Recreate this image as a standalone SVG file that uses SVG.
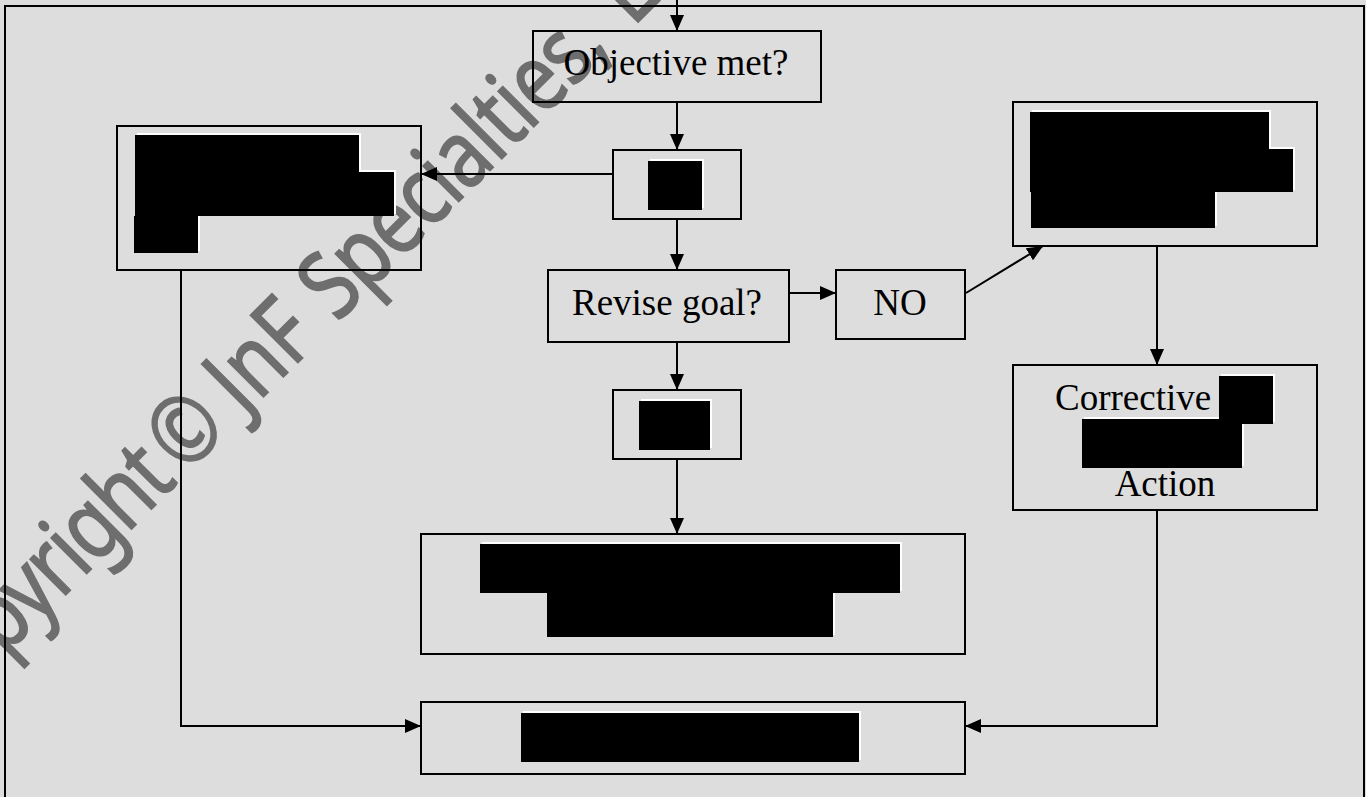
<svg xmlns="http://www.w3.org/2000/svg" width="1366" height="797" viewBox="0 0 1366 797">
  <defs>
    <marker id="arrow" viewBox="0 0 16 14" refX="16" refY="7" markerWidth="16" markerHeight="14" markerUnits="userSpaceOnUse" orient="auto">
      <path d="M0,0 L16,7 L0,14 z" fill="#000"/>
    </marker>
    <style>
      .box { fill: none; stroke: #000; stroke-width: 2; }
      .lbl { font-family: "Liberation Serif", "Times New Roman", serif; font-size: 37px; fill: #000; }
      .mid { text-anchor: middle; }
      .edge { fill: #fff; }
      .blk { fill: #000; }
      .conn { fill: none; stroke: #000; stroke-width: 2; }
      .wm { font-family: "Noto Sans", "Open Sans", sans-serif; font-size: 77px; fill: #6e6e6e; stroke: #6e6e6e; stroke-width: 1.4; }
      .tight { letter-spacing: -2px; }
      .snug { letter-spacing: -1.2px; }
    </style>
  </defs>

  <!-- page background -->
  <rect x="0" y="0" width="1366" height="797" fill="#dddddd"/>

  <!-- diagonal watermark: 45 degree baseline, glyphs stretched across the baseline -->
  <g id="watermark" transform="rotate(-45) translate(0,467) scale(1,1.22)">
    <text y="0" class="wm"><tspan x="-553" class="tight">Copyright</tspan><tspan x="-205">©</tspan><tspan x="-122">JnF</tspan><tspan x="10" class="snug">Specialties,</tspan><tspan x="428">L</tspan></text>
  </g>

  <!-- page frame -->
  <rect x="5" y="6" width="1359" height="900" class="box"/>

  <!-- connectors -->
  <g id="connectors">
    <line x1="677" y1="0" x2="677" y2="31" class="conn" marker-end="url(#arrow)"/>
    <line x1="677" y1="102" x2="677" y2="150" class="conn" marker-end="url(#arrow)"/>
    <line x1="613" y1="174" x2="421" y2="174" class="conn" marker-end="url(#arrow)"/>
    <line x1="677" y1="219" x2="677" y2="270" class="conn" marker-end="url(#arrow)"/>
    <line x1="789" y1="293" x2="836" y2="293" class="conn" marker-end="url(#arrow)"/>
    <line x1="966" y1="293" x2="1043" y2="246" class="conn" marker-end="url(#arrow)"/>
    <line x1="677" y1="342" x2="677" y2="390" class="conn" marker-end="url(#arrow)"/>
    <line x1="677" y1="459" x2="677" y2="534" class="conn" marker-end="url(#arrow)"/>
    <line x1="1157" y1="246" x2="1157" y2="365" class="conn" marker-end="url(#arrow)"/>
    <polyline points="181,270 181,726 421,726" class="conn" marker-end="url(#arrow)"/>
    <polyline points="1157,510 1157,726 965,726" class="conn" marker-end="url(#arrow)"/>
  </g>

  <g id="objective">
    <rect x="533" y="31" width="288" height="71" class="box"/>
    <text x="676" y="75" class="lbl mid">Objective met?</text>
  </g>

  <g id="check">
    <rect x="613" y="150" width="128" height="69" class="box"/>
    <rect x="650" y="159" width="54" height="49" class="edge"/>
    <rect x="648" y="161" width="54" height="49" class="blk"/>
  </g>

  <g id="left-step">
    <rect x="117" y="126" width="304" height="144" class="box"/>
    <rect x="137" y="133" width="224" height="37" class="edge"/>
    <rect x="137" y="170" width="259" height="44" class="edge"/>
    <rect x="136" y="214" width="64" height="37" class="edge"/>
    <rect x="135" y="135" width="224" height="37" class="blk"/>
    <rect x="135" y="172" width="259" height="44" class="blk"/>
    <rect x="134" y="216" width="64" height="37" class="blk"/>
  </g>

  <g id="revise">
    <rect x="548" y="270" width="241" height="72" class="box"/>
    <text x="667" y="315" class="lbl mid">Revise goal?</text>
  </g>

  <g id="no">
    <rect x="836" y="270" width="129" height="69" class="box"/>
    <text x="900" y="315" class="lbl mid">NO</text>
  </g>

  <g id="right-step">
    <rect x="1013" y="102" width="304" height="144" class="box"/>
    <rect x="1032" y="110" width="239" height="37" class="edge"/>
    <rect x="1032" y="147" width="263" height="43" class="edge"/>
    <rect x="1033" y="190" width="184" height="36" class="edge"/>
    <rect x="1030" y="112" width="239" height="37" class="blk"/>
    <rect x="1030" y="149" width="263" height="43" class="blk"/>
    <rect x="1031" y="192" width="184" height="36" class="blk"/>
  </g>

  <g id="corrective">
    <rect x="1013" y="365" width="304" height="145" class="box"/>
    <text x="1055" y="410" class="lbl">Corrective</text>
    <rect x="1221" y="374" width="54" height="48" class="edge"/>
    <rect x="1084" y="417" width="160" height="49" class="edge"/>
    <rect x="1219" y="376" width="54" height="48" class="blk"/>
    <rect x="1082" y="419" width="160" height="49" class="blk"/>
    <text x="1165" y="496" class="lbl mid">Action</text>
  </g>

  <g id="decision">
    <rect x="613" y="390" width="128" height="69" class="box"/>
    <rect x="641" y="399" width="71" height="49" class="edge"/>
    <rect x="639" y="401" width="71" height="49" class="blk"/>
  </g>

  <g id="outcome">
    <rect x="421" y="534" width="544" height="120" class="box"/>
    <rect x="482" y="542" width="420" height="49" class="edge"/>
    <rect x="549" y="591" width="286" height="44" class="edge"/>
    <rect x="480" y="544" width="420" height="49" class="blk"/>
    <rect x="547" y="593" width="286" height="44" class="blk"/>
  </g>

  <g id="final">
    <rect x="421" y="702" width="544" height="72" class="box"/>
    <rect x="523" y="711" width="338" height="49" class="edge"/>
    <rect x="521" y="713" width="338" height="49" class="blk"/>
  </g>
</svg>
